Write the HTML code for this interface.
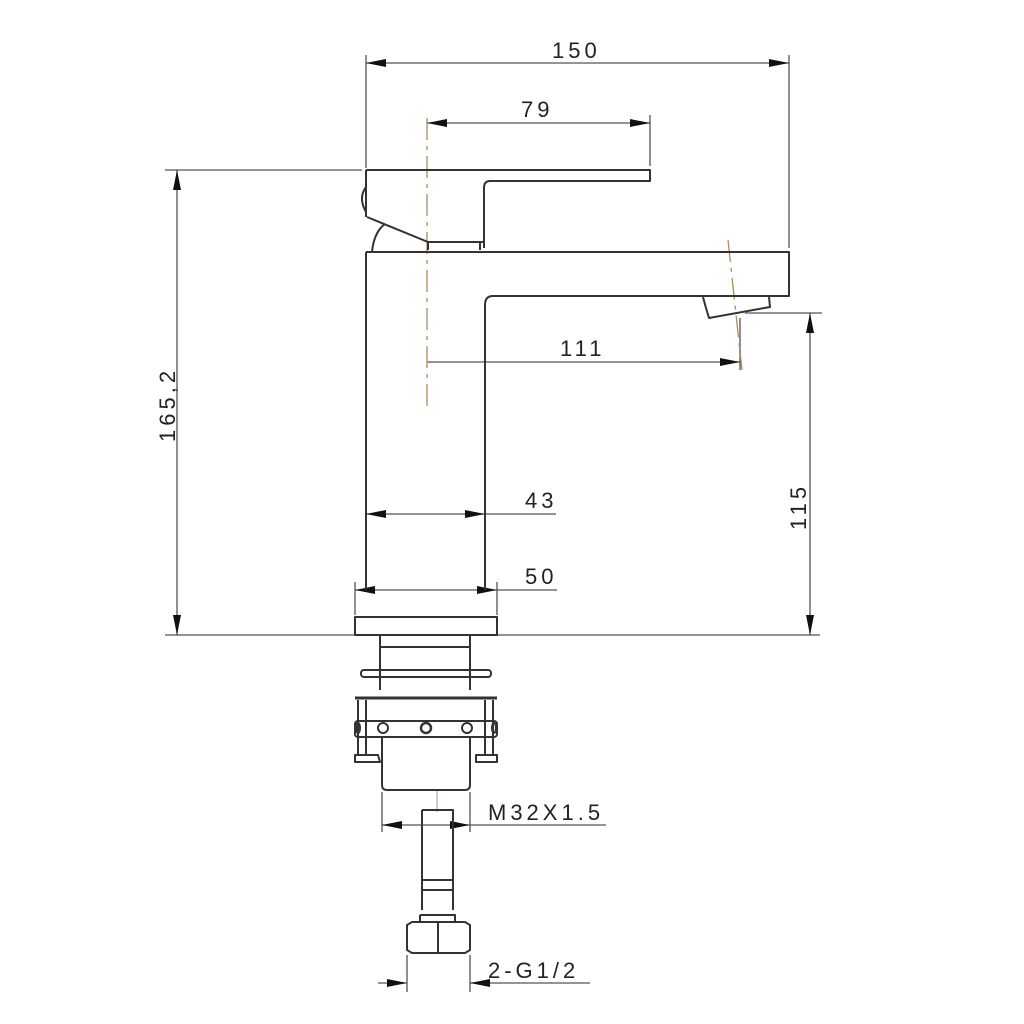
<!DOCTYPE html>
<html><head><meta charset="utf-8"><style>
html,body{margin:0;padding:0;background:#fff;}
svg{display:block}
text{font-family:"Liberation Sans",sans-serif;font-size:22px;fill:#222;letter-spacing:4px}
</style></head><body>
<svg width="1024" height="1024" viewBox="0 0 1024 1024" xmlns="http://www.w3.org/2000/svg">
<defs>
<marker id="a" viewBox="0 0 20 8" refX="20" refY="4" markerWidth="20" markerHeight="8" markerUnits="userSpaceOnUse" orient="auto-start-reverse"><path d="M0,0 L20,4 L0,8 Z" fill="#111"/></marker>
</defs>
<g stroke="#555" stroke-width="1.3" fill="none">
<!-- extension lines -->
<line x1="366" y1="55" x2="366" y2="168"/>
<line x1="789" y1="55" x2="789" y2="248"/>
<line x1="650" y1="115" x2="650" y2="166"/>
<line x1="165" y1="170" x2="362" y2="170"/>
<line x1="165" y1="635" x2="820" y2="635"/>
<line x1="745" y1="313" x2="822" y2="313"/>
<line x1="740" y1="318" x2="740" y2="370"/>
<line x1="355" y1="582" x2="355" y2="615"/>
<line x1="497" y1="582" x2="497" y2="615"/>
<line x1="382" y1="792" x2="382" y2="832"/>
<line x1="470" y1="792" x2="470" y2="832"/>
<line x1="407" y1="955" x2="407" y2="992"/>
<line x1="470" y1="955" x2="470" y2="992"/>
<!-- dimension lines -->
<line x1="366" y1="63" x2="789" y2="63" marker-start="url(#a)" marker-end="url(#a)"/>
<line x1="427" y1="123" x2="650" y2="123" marker-start="url(#a)" marker-end="url(#a)"/>
<line x1="177" y1="170" x2="177" y2="635" marker-start="url(#a)" marker-end="url(#a)"/>
<line x1="810" y1="313" x2="810" y2="635" marker-start="url(#a)" marker-end="url(#a)"/>
<line x1="427" y1="362" x2="740" y2="362" marker-end="url(#a)"/>
<line x1="366" y1="514" x2="485" y2="514" marker-start="url(#a)" marker-end="url(#a)"/>
<line x1="485" y1="514" x2="556" y2="514"/>
<line x1="355" y1="590" x2="497" y2="590" marker-start="url(#a)" marker-end="url(#a)"/>
<line x1="497" y1="590" x2="557" y2="590"/>
<line x1="382" y1="825" x2="470" y2="825" marker-start="url(#a)" marker-end="url(#a)"/>
<line x1="470" y1="825" x2="606" y2="825"/>
<line x1="378" y1="983" x2="407" y2="983" marker-end="url(#a)"/>
<line x1="590" y1="983" x2="470" y2="983" marker-end="url(#a)"/>
</g>
<!-- centerlines -->
<g stroke="#b08a5a" stroke-width="1.3" stroke-dasharray="22,6,4,6" fill="none">
<line x1="427" y1="118" x2="427" y2="410"/>
<line x1="728" y1="240" x2="742" y2="370"/>
</g>
<line x1="437" y1="790" x2="437" y2="812" stroke="#8899cc" stroke-width="1"/>
<!-- body -->
<g stroke="#333" stroke-width="2" fill="none" stroke-linejoin="round">
<path d="M366,170 L650,170 L650,181 L490,181 Q484,181 484,188 L484,248"/>
<path d="M367,217 L428,242 L484,242"/>
<path d="M428,242 L428,250 M480,242 L480,250"/>
<path d="M366,170 L366,217"/>
<path d="M366,187 Q358,198 366,212"/>
<path d="M372,252 Q374,232 385,224"/>
<path d="M366,252 L789,252 L789,296 L493,296 Q485,296 485,305 L485,590"/>
<path d="M366,252 L366,590"/>
<path d="M703,297 L706,308 L709,318 L770,307 L769,297"/>
<rect x="355" y="617" width="142" height="18"/>
<path d="M380,635 L380,690 M470,635 L470,690 M380,647 L470,647"/>
<rect x="361" y="670" width="130" height="7" rx="3"/>
<line x1="355" y1="698" x2="497" y2="698" stroke-width="3"/>
<path d="M358,700 L358,755 M366,700 L366,755 M485,700 L485,755 M493,700 L493,755"/>
<rect x="355" y="721" width="142" height="16" rx="3"/>
<circle cx="383" cy="728" r="5"/><circle cx="467" cy="728" r="5"/>
<circle cx="426" cy="728" r="5" stroke-width="2.5"/>
<ellipse cx="358" cy="728" rx="2" ry="5"/><ellipse cx="494" cy="728" rx="2" ry="5"/>
<path d="M355,762 L355,755 L378,755 L380,762 Z M476,762 L476,755 L497,755 L497,762 Z"/>
<path d="M382,737 L382,785 Q382,790 387,790 L465,790 Q470,790 470,785 L470,737"/>
<path d="M422,810 L453,810 L453,910 M422,810 L422,910 M422,880 L453,880 M422,890 L453,890"/>
<path d="M420,915 L455,915 L455,922 M420,915 L420,922"/>
<path d="M407,925 L412,922 L465,922 L470,925 L470,950 L465,953 L412,953 L407,950 Z M438,922 L438,953"/>
</g>
<!-- labels -->
<text x="552" y="58">150</text>
<text x="521" y="117">79</text>
<text x="560" y="356">111</text>
<text x="525" y="508">43</text>
<text x="525" y="584">50</text>
<text x="488" y="820">M32X1.5</text>
<text x="488" y="978">2-G1/2</text>
<text transform="translate(175,442) rotate(-90)">165,2</text>
<text transform="translate(806,530) rotate(-90)">115</text>
</svg>
</body></html>
